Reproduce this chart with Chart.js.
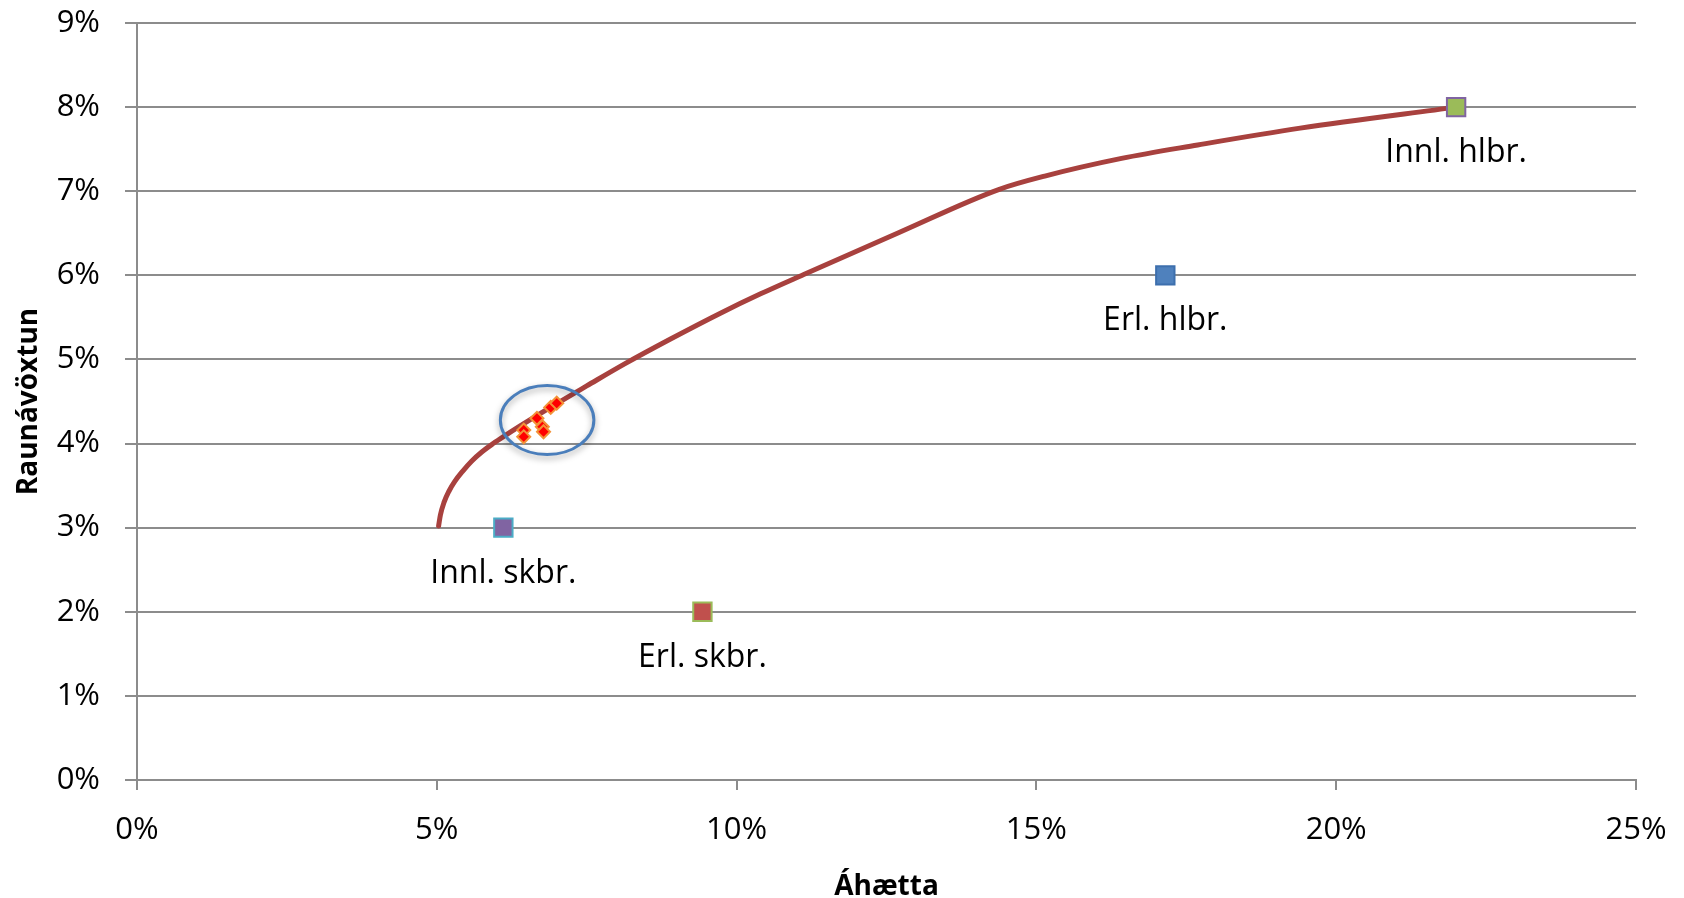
<!DOCTYPE html>
<html>
<head>
<meta charset="utf-8">
<script src="https://cdn.jsdelivr.net/npm/chart.js@4/dist/chart.umd.min.js"></script>
<style>
  html, body { margin: 0; padding: 0; background: #ffffff; }
  #wrap { width: 1684px; height: 898px; position: relative; }
  canvas { display: block; }
</style>
</head>
<body>
<div id="wrap"><canvas id="chart" width="1684" height="898"></canvas></div>
<script>
// Axis ticks (percent)
const xTickValues = [0, 5, 10, 15, 20, 25];
const yTickValues = [0, 1, 2, 3, 4, 5, 6, 7, 8, 9];

// Efficient frontier: risk (%) vs real return (%)
const frontierRisk   = [5.03, 5.06, 5.12, 5.20, 5.30, 5.43, 5.58, 5.75, 5.94, 6.15, 6.39, 6.66, 6.95, 7.50, 8.14, 8.89, 9.73, 10.40, 11.12, 12.71, 14.37, 15.14, 16.42, 17.69, 19.40, 22.00];
const frontierReturn = [3.02, 3.15, 3.30, 3.43, 3.55, 3.67, 3.79, 3.90, 4.00, 4.10, 4.21, 4.33, 4.455, 4.685, 4.95, 5.24, 5.55, 5.78, 6.01, 6.51, 7.02, 7.18, 7.39, 7.55, 7.75, 8.00];

// Asset classes
const assetNames  = ['Innl. hlbr.', 'Erl. hlbr.', 'Innl. skbr.', 'Erl. skbr.'];
const assetRisk   = [22.00, 17.15, 6.11, 9.43];
const assetReturn = [8, 6, 3, 2];

// Actual portfolios
const portfolioRisk   = [6.45, 6.45, 6.67, 6.76, 6.78, 6.90, 7.00];
const portfolioReturn = [4.16, 4.08, 4.30, 4.20, 4.14, 4.43, 4.48];

// Styling
const assetFill   = ['#9BBB59', '#4F81BD', '#8064A2', '#C0504D'];
const assetBorder = ['#8064A2', '#3D6FAD', '#4BACC6', '#9BBB59'];
const gridColor = '#8C8C8C';
const FONT = '"Open Sans", "Noto Sans", sans-serif';

// Highlight ring around the portfolio cluster (data units)
const ringCenter = { x: 6.84, y: 4.28 };
const ringRadius = { x: 0.78, y: 0.41 };

const toPoints = (xs, ys) => xs.map((x, i) => ({ x, y: ys[i] }));

const ringPlugin = {
  id: 'ring',
  afterDatasetsDraw(chart) {
    const { ctx, scales: { x, y } } = chart;
    const cx = x.getPixelForValue(ringCenter.x);
    const cy = y.getPixelForValue(ringCenter.y);
    const rx = Math.abs(x.getPixelForValue(ringCenter.x + ringRadius.x) - cx);
    const ry = Math.abs(y.getPixelForValue(ringCenter.y + ringRadius.y) - cy);
    ctx.save();
    ctx.shadowColor = 'rgba(0,0,0,0.35)';
    ctx.shadowBlur = 6;
    ctx.shadowOffsetY = 3;
    ctx.strokeStyle = '#4A7EBB';
    ctx.lineWidth = 3;
    ctx.beginPath();
    ctx.ellipse(cx, cy, rx, ry, 0, 0, Math.PI * 2);
    ctx.stroke();
    ctx.restore();
  }
};

const assetLabelPlugin = {
  id: 'assetLabels',
  afterDatasetsDraw(chart) {
    const { ctx, scales: { x, y } } = chart;
    ctx.save();
    ctx.font = '32px ' + FONT;
    ctx.fillStyle = '#000000';
    ctx.textAlign = 'center';
    ctx.textBaseline = 'middle';
    assetNames.forEach((name, i) => {
      ctx.fillText(name, x.getPixelForValue(assetRisk[i]), y.getPixelForValue(assetReturn[i]) + 46);
    });
    ctx.restore();
  }
};

new Chart(document.getElementById('chart'), {
  type: 'scatter',
  data: {
    datasets: [
      {
        label: 'Eignasöfn',
        data: toPoints(portfolioRisk, portfolioReturn),
        pointStyle: 'rectRot',
        pointRadius: 6.5,
        backgroundColor: '#FF0000',
        borderColor: '#F39237',
        borderWidth: 2
      },
      {
        label: 'Eignaflokkar',
        data: toPoints(assetRisk, assetReturn),
        pointStyle: 'rect',
        pointRadius: 13,
        backgroundColor: assetFill,
        borderColor: assetBorder,
        borderWidth: 2
      },
      {
        type: 'line',
        label: 'Skilvirkt jaðar',
        data: toPoints(frontierRisk, frontierReturn),
        showLine: true,
        borderColor: '#A8413E',
        borderWidth: 5,
        borderCapStyle: 'round',
        borderJoinStyle: 'round',
        cubicInterpolationMode: 'monotone',
        pointRadius: 0,
        fill: false
      }
    ]
  },
  options: {
    responsive: false,
    maintainAspectRatio: false,
    animation: false,
    devicePixelRatio: 1,
    layout: { padding: { left: 0, top: 23, right: 48, bottom: 0 } },
    plugins: {
      legend: { display: false },
      tooltip: { enabled: false }
    },
    scales: {
      x: {
        type: 'linear',
        min: 0, max: 25,
        afterBuildTicks: s => { s.ticks = xTickValues.map(v => ({ value: v })); },
        afterFit: s => { s.height = 118; s.paddingLeft = 0; s.paddingRight = 0; },
        ticks: {
          callback: v => v + '%',
          color: '#000000',
          font: { family: FONT, size: 31 },
          padding: 22,
          maxRotation: 0
        },
        grid: { display: true, drawOnChartArea: false, drawTicks: true, tickLength: 10, color: gridColor, lineWidth: 2 },
        border: { display: true, color: gridColor, width: 2 },
        title: {
          display: true,
          text: 'Áhætta',
          color: '#000000',
          font: { family: FONT, size: 28, weight: 'bold', lineHeight: 0.8 },
          padding: { top: 0, bottom: 0 }
        }
      },
      y: {
        type: 'linear',
        min: 0, max: 9,
        afterBuildTicks: s => { s.ticks = yTickValues.map(v => ({ value: v })); },
        afterFit: s => { s.width = 137; s.paddingTop = 0; s.paddingBottom = 0; },
        ticks: {
          callback: v => v + '%',
          color: '#000000',
          font: { family: FONT, size: 31 },
          padding: 25
        },
        grid: { display: true, drawTicks: true, tickLength: 12, color: gridColor, lineWidth: 2 },
        border: { display: true, color: gridColor, width: 2 },
        title: {
          display: true,
          text: 'Raunávöxtun',
          color: '#000000',
          font: { family: FONT, size: 28, weight: 'bold' },
          padding: { top: 12, bottom: 0 }
        }
      }
    }
  },
  plugins: [ringPlugin, assetLabelPlugin]
});
</script>
</body>
</html>
